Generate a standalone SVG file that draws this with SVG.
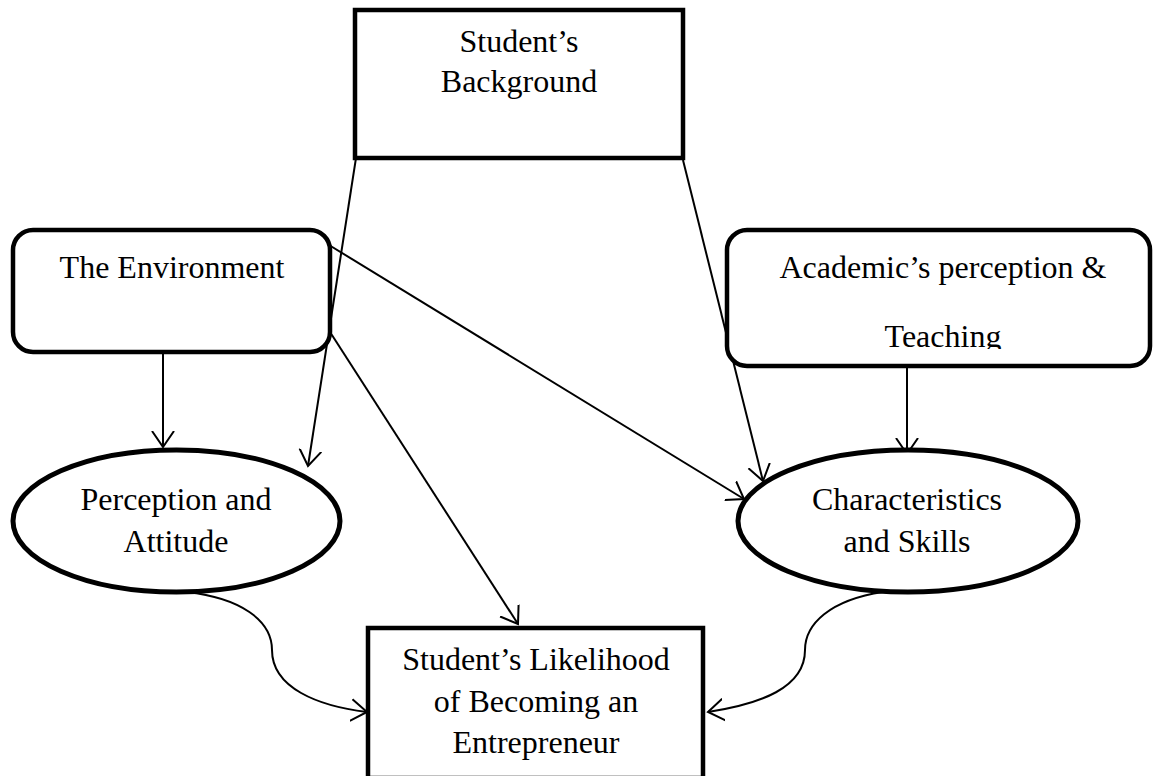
<svg xmlns="http://www.w3.org/2000/svg" width="1153" height="776" viewBox="0 0 1153 776">
  <style>
    .box { fill: #fff; stroke: #000; stroke-width: 4.5; }
    .ell { fill: #fff; stroke: #000; stroke-width: 5; }
    .conn { fill: none; stroke: #000; stroke-width: 2; }
    text { font-family: "Liberation Serif", "Times New Roman", serif; font-size: 32px; fill: #000; text-anchor: middle; }
  </style>
  <defs>
    <marker id="arr" markerUnits="userSpaceOnUse" markerWidth="30" markerHeight="30" refX="16" refY="11" orient="auto" viewBox="0 0 30 22">
      <path d="M0,0 L16,11 L0,22" fill="none" stroke="#000" stroke-width="2"/>
    </marker>
    <clipPath id="acClip"><rect x="727" y="230" width="426" height="119"/></clipPath>
  </defs>
  <rect width="1153" height="776" fill="#fff"/>

  <g id="connectors">
    <line class="conn" x1="356" y1="158" x2="308" y2="466" marker-end="url(#arr)"/>
    <line class="conn" x1="683" y1="160" x2="763" y2="481" marker-end="url(#arr)"/>
    <line class="conn" x1="329" y1="245" x2="744" y2="499" marker-end="url(#arr)"/>
    <line class="conn" x1="330" y1="332" x2="518" y2="624" marker-end="url(#arr)"/>
    <line class="conn" x1="163" y1="352" x2="163" y2="447" marker-end="url(#arr)"/>
    <line class="conn" x1="907" y1="367" x2="907" y2="454" marker-end="url(#arr)"/>
    <path class="conn" d="M187,592 C240,598 272,620 272,650 C272,688 318,706 367,712" marker-end="url(#arr)"/>
    <path class="conn" d="M883,592 C830,600 805,624 805,650 C805,688 760,704 708,712" marker-end="url(#arr)"/>
  </g>

  <g id="background">
    <rect class="box" x="355" y="10" width="328" height="148"/>
    <text x="519" y="52">Student’s</text>
    <text x="519" y="92">Background</text>
  </g>

  <g id="environment">
    <rect class="box" x="13" y="230" width="317" height="122" rx="20" ry="20"/>
    <text x="172" y="278">The Environment</text>
  </g>

  <g id="academic">
    <rect class="box" x="727" y="230" width="423" height="136" rx="20" ry="20"/>
    <text x="943" y="278">Academic’s perception &amp;</text>
    <text x="943" y="347" clip-path="url(#acClip)">Teaching</text>
  </g>

  <g id="perception">
    <ellipse class="ell" cx="176.5" cy="521" rx="163.5" ry="71"/>
    <text x="176" y="510">Perception and</text>
    <text x="176" y="552">Attitude</text>
  </g>

  <g id="characteristics">
    <ellipse class="ell" cx="908" cy="521" rx="170" ry="71"/>
    <text x="907" y="510">Characteristics</text>
    <text x="907" y="552">and Skills</text>
  </g>

  <g id="likelihood">
    <rect class="box" x="368" y="628" width="335" height="150"/>
    <text x="536" y="670">Student’s Likelihood</text>
    <text x="536" y="712">of Becoming an</text>
    <text x="536" y="753">Entrepreneur</text>
  </g>
</svg>
